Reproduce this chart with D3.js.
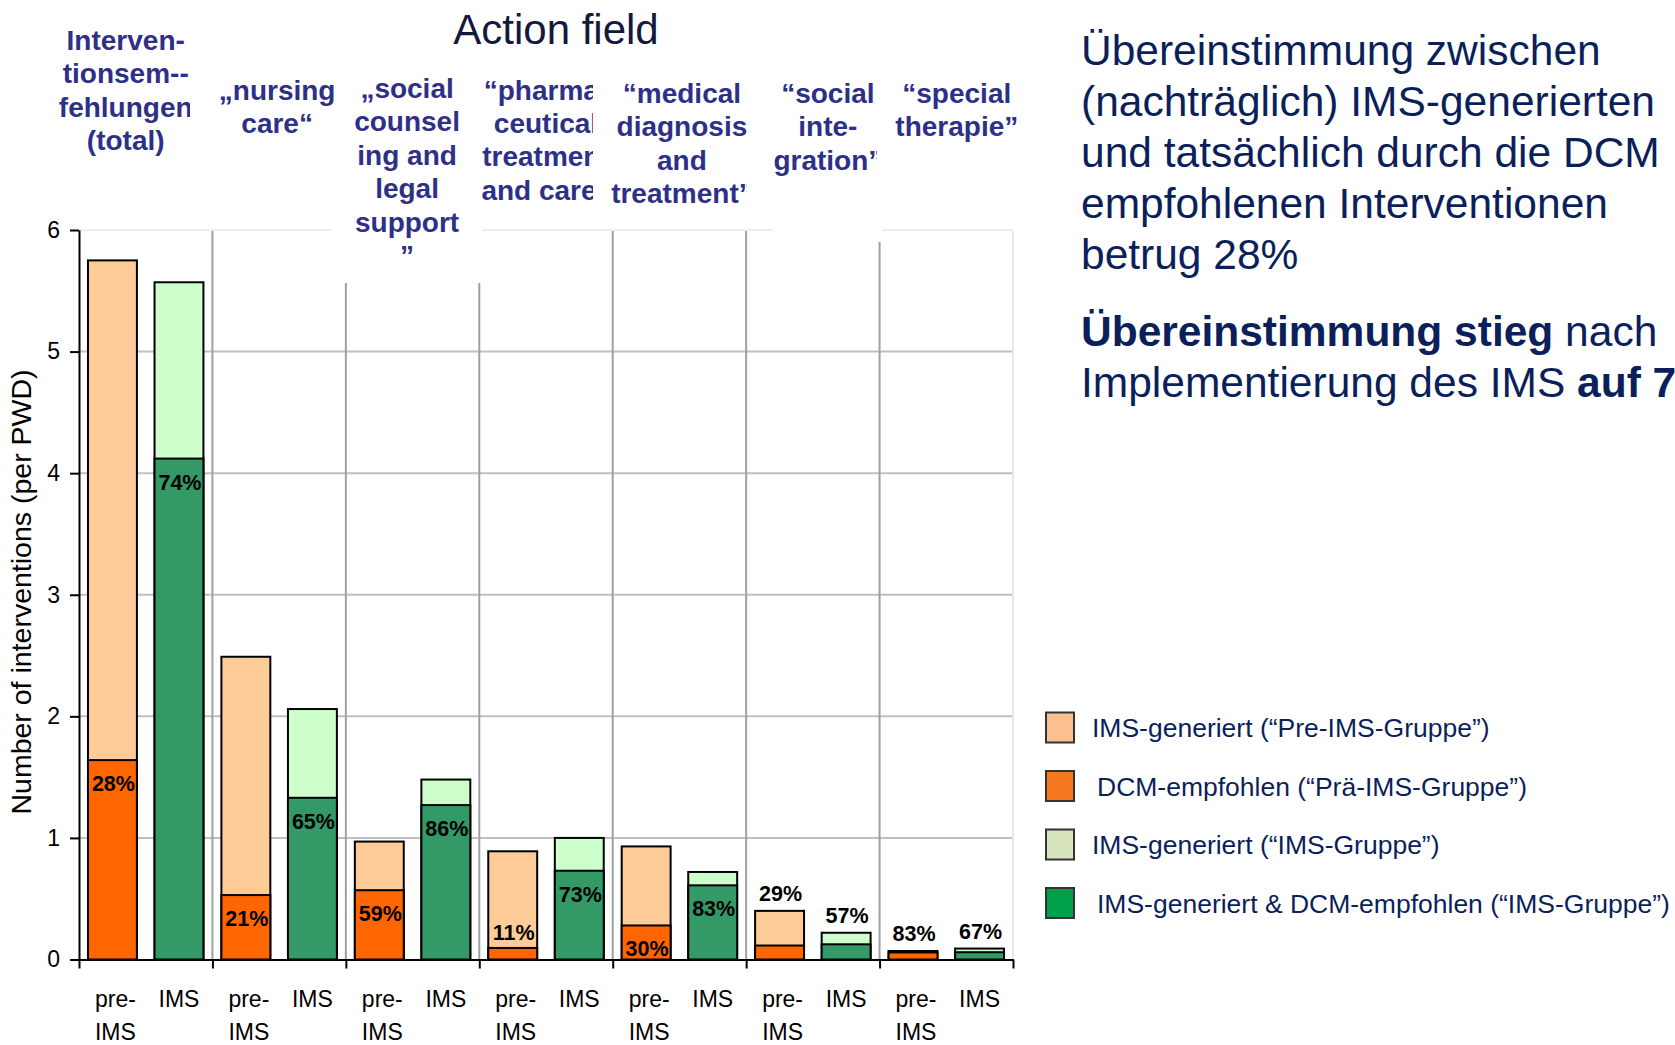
<!DOCTYPE html>
<html>
<head>
<meta charset="utf-8">
<script src="https://cdn.jsdelivr.net/npm/d3@7"></script>
<style>
  body { margin: 0; background: #fff; }
  svg { display: block; font-family: "Liberation Sans", Arial, sans-serif; }
</style>
</head>
<body>
<svg width="1675" height="1045"></svg>
<script>
// ---- data ----
var fieldLines = [
  ["Interven-", "tionsem--", "fehlungen", "(total)"],
  ["\u201Enursing", "care\u201C"],
  ["\u201Esocial", "counsel", "ing and", "legal", "support", "\u201D"],
  ["\u201Cpharma-", "ceutical", "treatment", "and care\u201D"],
  ["\u201Cmedical", "diagnosis", "and", "treatment\u201D"],
  ["\u201Csocial", "inte-", "gration\u201D"],
  ["\u201Cspecial", "therapie\u201D"]
];
var subgroups = ["pre", "ims"];

// pre-IMS group: all IMS-generated vs. the part DCM recommended
var preTotal = [5.75, 2.49, 0.97, 0.89, 0.93, 0.40, 0.07];
var preDcm   = [1.64, 0.53, 0.57, 0.095, 0.28, 0.115, 0.058];
var prePct   = ["28%", "21%", "59%", "11%", "30%", "29%", "83%"];

// IMS group: all IMS-generated vs. generated & recommended
var imsTotal = [5.57, 2.06, 1.48, 1.00, 0.72, 0.22, 0.09];
var imsMatch = [4.12, 1.33, 1.27, 0.73, 0.61, 0.125, 0.06];
var imsPct   = ["74%", "65%", "86%", "73%", "83%", "57%", "67%"];

var yTicks = [0, 1, 2, 3, 4, 5, 6];

var legendLabels = [
  "IMS-generiert (\u201CPre-IMS-Gruppe\u201D)",
  "DCM-empfohlen (\u201CPr\u00E4-IMS-Gruppe\u201D)",
  "IMS-generiert (\u201CIMS-Gruppe\u201D)",
  "IMS-generiert & DCM-empfohlen (\u201CIMS-Gruppe\u201D)"
];

var noteLines = [
  "\u00DCbereinstimmung zwischen",
  "(nachtr\u00E4glich) IMS-generierten",
  "und tats\u00E4chlich durch die DCM",
  "empfohlenen Interventionen",
  "betrug 28%"
];

// ---- layout ----
var svg = d3.select("svg");
var navy = "#0b1f5b", headBlue = "#2e3088";
var barCol = { prePart: "#ffcc99", preLow: "#ff6600", imsPart: "#ccffcc", imsLow: "#339966" };
var legendCol = ["#fac090", "#f47920", "#d7e4bd", "#00a04a"];

var plotL = 79, plotR = 1013, plotB = 959.5, plotT = 230;

var x = d3.scaleBand().domain(d3.range(fieldLines.length)).range([plotL, plotR]);
var xSub = d3.scaleBand().domain(subgroups).range([0, x.bandwidth()])
    .paddingInner(0.265).paddingOuter(0.135);
var xEdge = d3.scaleLinear().domain([0, fieldLines.length]).range([plotL, plotR]);
var y = d3.scaleLinear().domain([0, 6]).range([plotB, plotT]);

// gridlines
svg.append("g").selectAll("line")
  .data(yTicks.filter(function(d) { return d > 0; }))
  .enter().append("line")
    .attr("x1", plotL).attr("x2", plotR)
    .attr("y1", function(d) { return y(d); }).attr("y2", function(d) { return y(d); })
    .attr("stroke", function(d) { return d == 6 ? "#eeeeee" : "#c0c0c0"; })
    .attr("stroke-width", 2);

// group dividers
svg.append("g").selectAll("line")
  .data(d3.range(1, fieldLines.length + 1))
  .enter().append("line")
    .attr("x1", function(d) { return xEdge(d); }).attr("x2", function(d) { return xEdge(d); })
    .attr("y1", plotT + 1).attr("y2", plotB)
    .attr("stroke", function(d) { return d == fieldLines.length ? "#e8e8e8" : "#a0a0a0"; })
    .attr("stroke-width", 2);

// white text boxes that sit over the plot top
[[332, 60, 150, 223], [773, 80, 109, 162]].forEach(function(b) {
  svg.append("rect").attr("x", b[0]).attr("y", b[1]).attr("width", b[2]).attr("height", b[3])
    .attr("fill", "#fff");
});

// bars
var groupsG = svg.append("g").selectAll("g")
  .data(d3.range(fieldLines.length))
  .enter().append("g")
    .attr("transform", function(i) { return "translate(" + x(i) + ",0)"; });

function stack(g, sub, total, low, cTop, cLow) {
  g.append("rect")
    .attr("x", xSub(sub)).attr("width", xSub.bandwidth())
    .attr("y", function(i) { return y(total[i]); })
    .attr("height", function(i) { return y(0) - y(total[i]); })
    .attr("fill", cTop).attr("stroke", "#000").attr("stroke-width", 2);
  g.append("rect")
    .attr("x", xSub(sub)).attr("width", xSub.bandwidth())
    .attr("y", function(i) { return y(low[i]); })
    .attr("height", function(i) { return y(0) - y(low[i]); })
    .attr("fill", cLow).attr("stroke", "#000").attr("stroke-width", 2);
}
stack(groupsG, "pre", preTotal, preDcm, barCol.prePart, barCol.preLow);
stack(groupsG, "ims", imsTotal, imsMatch, barCol.imsPart, barCol.imsLow);

// percent labels: inside lower part if room, else above it, else above bar
function pctY(total, low) {
  var lowPx = y(0) - y(low), upPx = y(low) - y(total);
  if (lowPx > 28) return y(low) + 31;
  if (upPx > 50) return y(low) - 8;
  return y(total) - 10;
}
function pctLabels(sub, total, low, pct) {
  groupsG.append("text")
    .attr("x", xSub(sub) + xSub.bandwidth() / 2 + 1)
    .attr("y", function(i) { return pctY(total[i], low[i]); })
    .attr("text-anchor", "middle")
    .attr("font-size", 21.5).attr("font-weight", "bold").attr("fill", "#000")
    .text(function(i) { return pct[i]; });
}
pctLabels("pre", preTotal, preDcm, prePct);
pctLabels("ims", imsTotal, imsMatch, imsPct);

// y axis
var yAxis = svg.append("g")
  .attr("transform", "translate(" + plotL + ",0)")
  .call(d3.axisLeft(y).tickValues(yTicks).tickFormat(d3.format("d"))
        .tickSize(9).tickSizeOuter(0).tickPadding(10));
yAxis.attr("font-family", null).attr("font-size", null);
yAxis.select(".domain").attr("stroke", "#000").attr("stroke-width", 2);
yAxis.selectAll(".tick line").attr("stroke", "#000").attr("stroke-width", 2);
yAxis.selectAll(".tick text").style("font-size", "23px").attr("fill", "#000");

// x axis (ticks at group edges)
var xAxis = svg.append("g")
  .attr("transform", "translate(0," + plotB + ")")
  .call(d3.axisBottom(xEdge).tickValues(d3.range(fieldLines.length + 1)).tickSize(9)
        .tickSizeOuter(0).tickFormat(""));
xAxis.select(".domain").attr("stroke", "#000").attr("stroke-width", 2);
xAxis.selectAll(".tick line").attr("stroke", "#000").attr("stroke-width", 2);

// bar labels under the axis
groupsG.append("text")
  .attr("text-anchor", "middle").attr("font-size", 23).attr("fill", "#000")
  .selectAll("tspan").data(["pre-", "IMS"]).enter().append("tspan")
    .attr("x", xSub("pre") + xSub.bandwidth() / 2 + 3)
    .attr("y", function(d, k) { return 1007 + k * 33; })
    .text(function(d) { return d; });
groupsG.append("text")
  .attr("x", xSub("ims") + xSub.bandwidth() / 2)
  .attr("y", 1007)
  .attr("text-anchor", "middle").attr("font-size", 23).attr("fill", "#000")
  .text("IMS");

// y axis title
svg.append("text")
  .attr("transform", "translate(31,592) rotate(-90)")
  .attr("text-anchor", "middle").attr("font-size", 28.5).attr("fill", "#000")
  .text("Number of interventions (per PWD)");

// header
svg.append("text")
  .attr("x", 556).attr("y", 44).attr("text-anchor", "middle")
  .attr("font-size", 42).attr("fill", "#15173d")
  .text("Action field");

var headDx = [-20, -2, -5.5, 0, 2.5, 15, 10.5];
var headY0 = [50, 99.5, 98, 99.5, 103, 103, 103];
var headClip = [190, null, 460, 593, 747, 877, null];
var defs = svg.append("defs");
fieldLines.forEach(function(lines, i) {
  var cx = x(i) + x.bandwidth() / 2 + headDx[i];
  var t = svg.append("text")
    .attr("text-anchor", "middle").attr("font-size", 28).attr("font-weight", "bold")
    .attr("fill", headBlue);
  if (headClip[i] != null) {
    defs.append("clipPath").attr("id", "hc" + i)
      .append("rect").attr("x", 0).attr("y", 0).attr("width", headClip[i]).attr("height", 300);
    t.attr("clip-path", "url(#hc" + i + ")");
  }
  t.selectAll("tspan").data(lines).enter().append("tspan")
    .attr("x", cx)
    .attr("y", function(d, k) { return headY0[i] + k * 33.4; })
    .text(function(d) { return d; });
});

// note on the right
var note = svg.append("text").attr("font-size", 42.5).attr("fill", navy);
note.selectAll("tspan").data(noteLines).enter().append("tspan")
  .attr("x", 1081).attr("y", function(d, k) { return 65 + k * 51; })
  .text(function(d) { return d; });

var note2 = svg.append("text").attr("font-size", 42.5).attr("fill", navy);
var l1 = note2.append("tspan").attr("x", 1081).attr("y", 346);
l1.append("tspan").attr("font-weight", "bold").text("\u00DCbereinstimmung stieg");
l1.append("tspan").text(" nach");
var l2 = note2.append("tspan").attr("x", 1081).attr("y", 397);
l2.append("tspan").text("Implementierung des IMS ");
l2.append("tspan").attr("font-weight", "bold").text("auf 7");

// legend
var leg = svg.append("g").selectAll("g")
  .data(legendLabels)
  .enter().append("g")
    .attr("transform", function(d, i) { return "translate(1046," + (727.5 + i * 58.5) + ")"; });
leg.append("rect")
  .attr("x", 0).attr("y", -15).attr("width", 28).attr("height", 30)
  .attr("fill", function(d, i) { return legendCol[i]; })
  .attr("stroke", "#333").attr("stroke-width", 2);
leg.append("text")
  .attr("x", function(d, i) { return i % 2 ? 51 : 46; })
  .attr("y", 9.5)
  .attr("font-size", 26.5).attr("fill", navy)
  .text(function(d) { return d; });
</script>
</body>
</html>
